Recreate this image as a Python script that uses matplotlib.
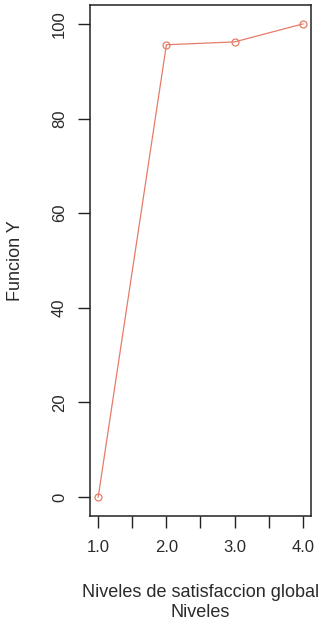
import matplotlib
matplotlib.use("Agg")
import matplotlib.pyplot as plt

plt.rcParams['font.family'] = ['Liberation Sans', 'DejaVu Sans']

niveles = [1, 2, 3, 4]
funcion_y = [0, 95.6, 96.2, 100]
x_ticks = [1.0, 1.5, 2.0, 2.5, 3.0, 3.5, 4.0]
x_labels = ['1.0', '', '2.0', '', '3.0', '', '4.0']
y_ticks = [0, 20, 40, 60, 80, 100]

fs_tick = 12
fs_lab = 13
txt = '#2a2a2a'

fig = plt.figure(figsize=(3.21, 6.26), dpi=100)
ax = fig.add_axes([90 / 321, 1 - 516 / 626, 221 / 321, 511 / 626])

ax.plot(niveles, funcion_y, color='#E57C68', linewidth=0.9,
        marker='o', markersize=5, markerfacecolor='none',
        markeredgecolor='#E57C68', markeredgewidth=0.9)

ax.set_xlim(0.88, 4.12)
ax.set_ylim(-4, 104)

ax.set_xticks(x_ticks)
ax.set_xticklabels(x_labels, fontsize=fs_tick, color=txt)
ax.set_yticks(y_ticks)
ax.set_yticklabels([str(v) for v in y_ticks], fontsize=fs_tick, rotation=90,
                   va='center', color=txt)
ax.tick_params(axis='both', length=8.5, width=1, color='#222222')
ax.tick_params(axis='x', pad=9)
ax.tick_params(axis='y', pad=8)

for s in ax.spines.values():
    s.set_linewidth(1.1)
    s.set_color('#222222')

ax.set_xlabel('Niveles de satisfaccion global\nNiveles', fontsize=fs_lab,
              color=txt, labelpad=21, linespacing=1.2)
ax.set_ylabel('Funcion Y', fontsize=fs_lab, color=txt, labelpad=20)

fig.savefig('out.png', dpi=100)
